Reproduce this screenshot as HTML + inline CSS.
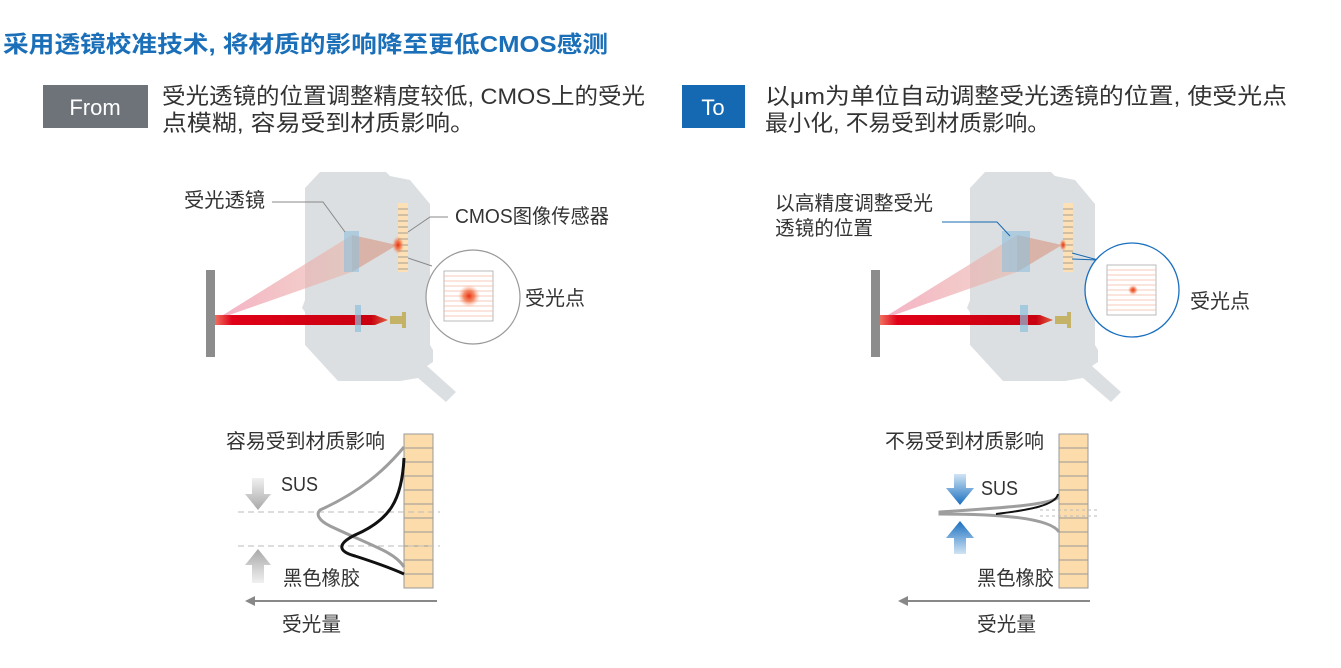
<!DOCTYPE html>
<html><head><meta charset="utf-8"><style>
body{margin:0;background:#fff;width:1341px;height:668px;overflow:hidden}
svg{display:block}
text{font-family:"Liberation Sans","Noto Sans CJK SC",sans-serif;fill:#333}
</style></head><body>
<svg width="1341" height="668" viewBox="0 0 1341 668">
<defs>
<linearGradient id="cone" x1="0" x2="1"><stop offset="0" stop-color="#f4a8c0" stop-opacity=".9"/><stop offset="1" stop-color="#e8b0a0" stop-opacity=".5"/></linearGradient>
<linearGradient id="beam" x1="0" x2="1"><stop offset="0" stop-color="#f07060"/><stop offset=".1" stop-color="#e00018"/><stop offset=".9" stop-color="#c80010"/><stop offset="1" stop-color="#e06040"/></linearGradient>
<radialGradient id="spot"><stop offset="0" stop-color="#e83010"/><stop offset=".5" stop-color="#f06030" stop-opacity=".7"/><stop offset="1" stop-color="#f8a080" stop-opacity="0"/></radialGradient>
<linearGradient id="ga" x1="0" y1="0" x2="0" y2="1"><stop offset="0" stop-color="#f0f0f0"/><stop offset="1" stop-color="#a8a8a8"/></linearGradient>
<linearGradient id="gau" x1="0" y1="1" x2="0" y2="0"><stop offset="0" stop-color="#f0f0f0"/><stop offset="1" stop-color="#a8a8a8"/></linearGradient>
<linearGradient id="ba" x1="0" y1="0" x2="0" y2="1"><stop offset="0" stop-color="#d0e4f4"/><stop offset="1" stop-color="#1a6fc0"/></linearGradient>
<linearGradient id="bau" x1="0" y1="1" x2="0" y2="0"><stop offset="0" stop-color="#d0e4f4"/><stop offset="1" stop-color="#1a6fc0"/></linearGradient>
<g id="body">
<polygon points="305,188 320,172 386,172 390,176 410,180 430,204 430,345 433,350 433,362 427,366 456,392 446,402 418,378 400,381 338,381 305,345 305,312 302,308 305,300" fill="#dcdfe1"/>
</g>
<g id="sensor">
<rect x="398" y="203" width="10" height="69" fill="#fde0b5"/>
<path d="M398,209h10M398,215h10M398,221h10M398,227h10M398,233h10M398,239h10M398,245h10M398,251h10M398,257h10M398,263h10M398,269h10" stroke="#888" stroke-width=".8"/>
</g>
<g id="lines">
<rect x="444" y="271" width="49" height="50" fill="#fff" stroke="#aaa" stroke-width=".8"/>
<path d="M444,276h49M444,281h49M444,286h49M444,291h49M444,296h49M444,301h49M444,306h49M444,311h49M444,316h49" stroke="#f4b8a0" stroke-width=".8"/>
</g>
<g id="bar">
<rect x="404" y="434" width="29" height="154" fill="#fbdcaa" stroke="#999"/>
<path d="M404,448h29M404,462h29M404,476h29M404,490h29M404,504h29M404,518h29M404,532h29M404,546h29M404,560h29M404,574h29" stroke="#999"/>
</g>
</defs>

<text x="3" y="52" font-size="23" font-weight="bold" style="fill:#1a6fb8" textLength="605" lengthAdjust="spacingAndGlyphs">采用透镜校准技术, 将材质的影响降至更低CMOS感测</text>

<rect x="43" y="85" width="105" height="43" fill="#6d7378"/>
<text x="95" y="115" font-size="22" text-anchor="middle" style="fill:#fff">From</text>
<text x="162" y="104" font-size="22.5" textLength="483" lengthAdjust="spacingAndGlyphs">受光透镜的位置调整精度较低, CMOS上的受光</text>
<text x="162" y="131" font-size="22.5" textLength="313" lengthAdjust="spacingAndGlyphs">点模糊, 容易受到材质影响。</text>

<rect x="682" y="85" width="63" height="43" fill="#1569b2"/>
<text x="713" y="115" font-size="22" text-anchor="middle" style="fill:#fff">To</text>
<text x="765" y="104" font-size="22.5" textLength="522" lengthAdjust="spacingAndGlyphs">以μm为单位自动调整受光透镜的位置, 使受光点</text>
<text x="765" y="131" font-size="22.5" textLength="285" lengthAdjust="spacingAndGlyphs">最小化, 不易受到材质影响。</text>

<!-- LEFT TOP -->
<use href="#body"/>
<polygon points="215,320 352,235 352,272" fill="url(#cone)"/>
<polygon points="352,235 397,245 352,272" fill="#d8a898" opacity=".8"/>
<rect x="344" y="231" width="15" height="41" fill="#8fc0dc" opacity=".6"/>
<use href="#sensor"/>
<ellipse cx="398" cy="245" rx="6" ry="9" fill="url(#spot)"/>
<rect x="206" y="270" width="9" height="87" fill="#8c8c8c"/>
<polygon points="215,315 375,315 388,320 375,325 215,325" fill="url(#beam)"/>
<rect x="355" y="305" width="6" height="27" fill="#8fc0dc" opacity=".7"/>
<path d="M390,316h12v-4h4v16h-4v-4h-12z" fill="#c4b266"/>
<path d="M272,202H323L345,232" fill="none" stroke="#888" stroke-width="1"/>
<path d="M408,232L430,217H448" fill="none" stroke="#888"/>
<path d="M408,258L432,266" fill="none" stroke="#888"/>
<circle cx="473" cy="297" r="47" fill="#fff" stroke="#999" stroke-width="1.2"/>
<use href="#lines"/>
<circle cx="469" cy="296" r="11" fill="url(#spot)"/>
<text x="184" y="207" font-size="20" textLength="81" lengthAdjust="spacingAndGlyphs">受光透镜</text>
<text x="455" y="223" font-size="20" textLength="154" lengthAdjust="spacingAndGlyphs">CMOS图像传感器</text>
<text x="525" y="305" font-size="20" textLength="60" lengthAdjust="spacingAndGlyphs">受光点</text>

<!-- RIGHT TOP -->
<g transform="translate(665,0)">
<use href="#body"/>
<polygon points="215,320 352,235 352,272" fill="url(#cone)"/>
<polygon points="352,235 397,245 352,272" fill="#d8a898" opacity=".8"/>
<rect x="337" y="231" width="28" height="41" fill="#8fc0dc" opacity=".6"/>
<use href="#sensor"/>
<ellipse cx="398" cy="245" rx="3.5" ry="6" fill="url(#spot)"/>
<rect x="206" y="270" width="9" height="87" fill="#8c8c8c"/>
<polygon points="215,315 375,315 388,320 375,325 215,325" fill="url(#beam)"/>
<rect x="355" y="305" width="8" height="27" fill="#8fc0dc" opacity=".7"/>
<path d="M390,316h12v-4h4v16h-4v-4h-12z" fill="#c4b266"/>
</g>
<path d="M942,222H997L1010,236" fill="none" stroke="#1569b2"/>
<path d="M1072,253L1098,260 1072,259" fill="none" stroke="#1569b2"/>
<circle cx="1132" cy="290" r="47" fill="#fff" stroke="#1a6fc0" stroke-width="1.3"/>
<g transform="translate(663,-6)"><use href="#lines"/></g>
<circle cx="1133" cy="290" r="5" fill="url(#spot)"/>
<text x="775" y="210" font-size="20" textLength="158" lengthAdjust="spacingAndGlyphs">以高精度调整受光</text>
<text x="775" y="235" font-size="20" textLength="98" lengthAdjust="spacingAndGlyphs">透镜的位置</text>
<text x="1190" y="308" font-size="20" textLength="60" lengthAdjust="spacingAndGlyphs">受光点</text>

<!-- LEFT BOTTOM -->
<use href="#bar"/>
<path d="M238,512H440M238,546H440" stroke="#bbb" stroke-dasharray="6,4"/>
<path d="M404,447C385,470 360,492 320,510 C316,514 318,520 330,526 C370,545 395,552 404,567" fill="none" stroke="#9e9e9e" stroke-width="3"/>
<path d="M404,458C402,500 390,520 355,535 C335,545 340,552 355,556 C380,564 395,570 404,574" fill="none" stroke="#111" stroke-width="3"/>
<polygon points="252,478 264,478 264,494 271,494 258,510 245,494 252,494" fill="url(#ga)"/>
<polygon points="252,583 264,583 264,565 271,565 258,549 245,565 252,565" fill="url(#gau)"/>
<path d="M252,601H437" stroke="#888" stroke-width="2"/><polygon points="245,601 255,596 255,606" fill="#888"/>
<text x="226" y="448" font-size="20" textLength="159" lengthAdjust="spacingAndGlyphs">容易受到材质影响</text>
<text x="281" y="491" font-size="20" textLength="37" lengthAdjust="spacingAndGlyphs">SUS</text>
<text x="283" y="585" font-size="20" textLength="77" lengthAdjust="spacingAndGlyphs">黑色橡胶</text>
<text x="282" y="631" font-size="20" textLength="59" lengthAdjust="spacingAndGlyphs">受光量</text>

<!-- RIGHT BOTTOM -->
<g transform="translate(655,0)"><use href="#bar"/></g>
<path d="M1040,510H1100M1040,516H1100" stroke="#bbb" stroke-dasharray="3,3"/>
<path d="M1059,497C1050,505 1000,508 940,512 L940,514 C1000,514 1050,518 1059,532" fill="none" stroke="#9e9e9e" stroke-width="3"/>
<path d="M1058,494C1056,505 1030,510 996,514" fill="none" stroke="#111" stroke-width="2"/>
<polygon points="954,474 966,474 966,488 974,488 960,505 946,488 954,488" fill="url(#ba)"/>
<polygon points="954,554 966,554 966,538 974,538 960,521 946,538 954,538" fill="url(#bau)"/>
<path d="M905,601H1090" stroke="#888" stroke-width="2"/><polygon points="898,601 908,596 908,606" fill="#888"/>
<text x="885" y="448" font-size="20" textLength="159" lengthAdjust="spacingAndGlyphs">不易受到材质影响</text>
<text x="981" y="495" font-size="20" textLength="37" lengthAdjust="spacingAndGlyphs">SUS</text>
<text x="977" y="585" font-size="20" textLength="77" lengthAdjust="spacingAndGlyphs">黑色橡胶</text>
<text x="977" y="631" font-size="20" textLength="59" lengthAdjust="spacingAndGlyphs">受光量</text>
</svg>
</body></html>
